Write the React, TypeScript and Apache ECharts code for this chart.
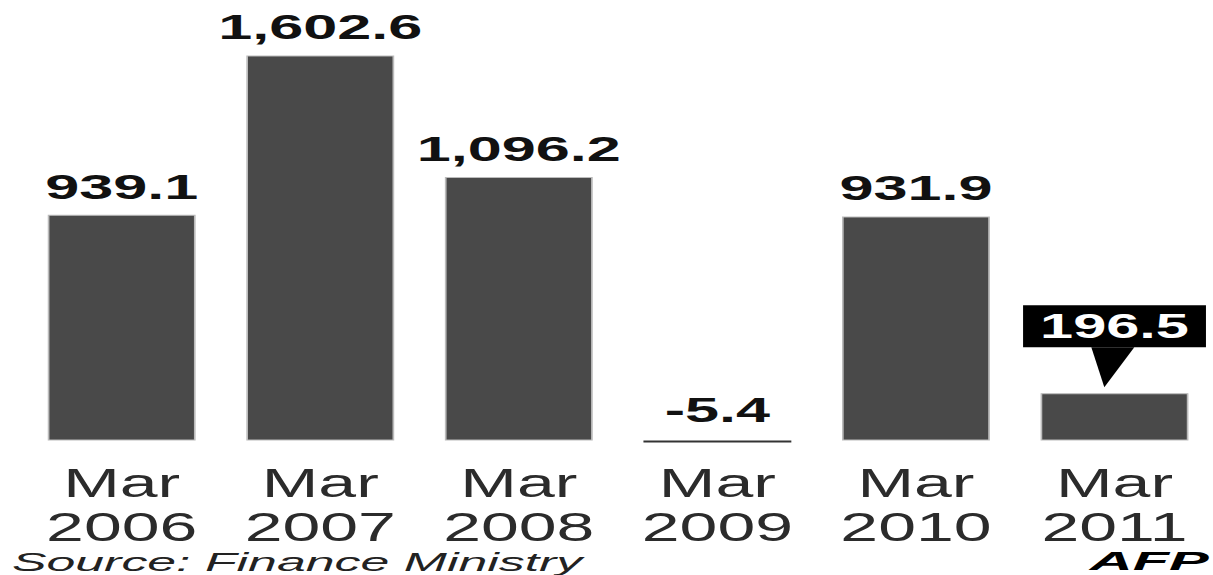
import React, { useEffect, useRef } from "react";
import * as echarts from "echarts";

const categories = ["Mar 2006", "Mar 2007", "Mar 2008", "Mar 2009", "Mar 2010", "Mar 2011"];
const values = [939.1, 1602.6, 1096.2, -5.4, 931.9, 196.5];
const highlightIndex = 5;
const sourceText = "Source: Finance Ministry";
const creditText = "AFP";

const STRETCH = 1.7;
const W = 1213;
const H = 575;
const FONT = "'Liberation Sans', Arial, Helvetica, sans-serif";

const fmt = (v: number) =>
  v.toLocaleString("en-US", { minimumFractionDigits: 1, maximumFractionDigits: 1 });

export default function App() {
  const ref = useRef<HTMLDivElement>(null);

  useEffect(() => {
    document.body.style.margin = "0";
    if (!ref.current) return;
    const chart = echarts.init(ref.current, undefined, { renderer: "svg" });

    const data = values.map((v, i) => {
      const item: any = { value: v };
      if (v < 0) {
        item.itemStyle = { borderWidth: 0, color: "#333333" };
        item.label = { distance: 13 };
      }
      if (i === highlightIndex) {
        item.label = {
          backgroundColor: "#000000",
          color: "#ffffff",
          fontSize: 35,
          lineHeight: 36,
          padding: [3, 10, 3, 10],
          distance: 46,
        };
      }
      return item;
    });

    chart.setOption({
      animation: false,
      backgroundColor: "#ffffff",
      grid: { left: 13.18, top: 7.96, width: 706.6, height: 456.57 },
      xAxis: {
        type: "category",
        data: categories,
        axisLine: { show: false },
        axisTick: { show: false },
        splitLine: { show: false },
        axisLabel: {
          interval: 0,
          margin: -3.5,
          fontFamily: FONT,
          fontSize: 40,
          lineHeight: 44,
          color: "#2b2b2b",
          formatter: (s: string) => s.replace(" ", "\n"),
        },
      },
      yAxis: {
        type: "value",
        min: -100,
        max: 1800,
        show: false,
        splitLine: { show: false },
      },
      series: [
        {
          type: "bar",
          data,
          barWidth: 87,
          barMinHeight: 2,
          itemStyle: { color: "#494949", borderColor: "#bcbcbc", borderWidth: 1 },
          label: {
            show: true,
            position: "top",
            distance: 10.5,
            fontFamily: FONT,
            fontWeight: "bold",
            fontSize: 36,
            color: "#111111",
            formatter: (p: any) => fmt(p.value),
          },
          markPoint: {
            silent: true,
            symbol: "path://M0,0 L43,0 L13,40 Z",
            symbolSize: [43 / STRETCH, 40],
            symbolKeepAspect: false,
            symbolOffset: [-1, -26],
            itemStyle: { color: "#000000" },
            label: { show: false },
            data: [{ coord: [categories[highlightIndex], values[highlightIndex]] }],
          },
        },
      ],
      graphic: [
        {
          type: "text",
          x: 7,
          y: 549.5,
          scaleX: 1.22,
          style: {
            text: sourceText,
            fontFamily: FONT,
            fontStyle: "italic",
            fontSize: 25,
            fill: "#222222",
            align: "left",
            verticalAlign: "top",
          },
        },
        {
          type: "text",
          x: 711,
          y: 549.5,
          scaleX: 1.4,
          style: {
            text: creditText,
            fontFamily: FONT,
            fontStyle: "italic",
            fontWeight: "bold",
            fontSize: 25,
            fill: "#000000",
            align: "right",
            verticalAlign: "top",
          },
        },
      ],
    });

    return () => chart.dispose();
  }, []);

  return (
    <div style={{ position: "absolute", left: 0, top: 0, width: W, height: H, overflow: "hidden", background: "#fff" }}>
      <div
        ref={ref}
        style={{
          width: W / STRETCH,
          height: H,
          transform: `scaleX(${STRETCH})`,
          transformOrigin: "0 0",
        }}
      />
    </div>
  );
}
